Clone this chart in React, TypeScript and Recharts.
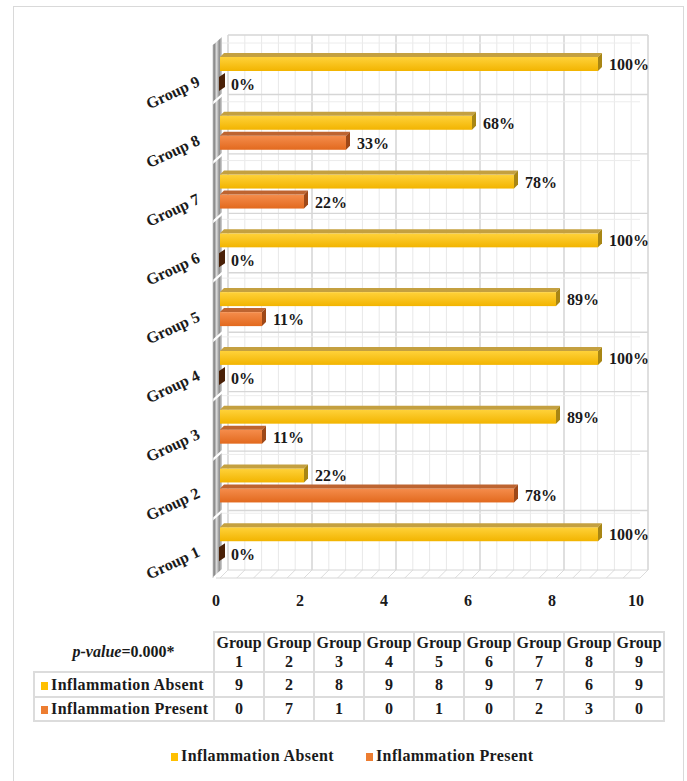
import { Bar, BarChart, LabelList, XAxis, YAxis } from "recharts";

const groups = ["Group 1", "Group 2", "Group 3", "Group 4", "Group 5", "Group 6", "Group 7", "Group 8", "Group 9"];
const absentCounts = [9, 2, 8, 9, 8, 9, 7, 6, 9];
const presentCounts = [0, 7, 1, 0, 1, 0, 2, 3, 0];
const absentLabels = ["100%", "22%", "89%", "100%", "89%", "100%", "78%", "68%", "100%"];
const presentLabels = ["0%", "78%", "11%", "0%", "11%", "0%", "22%", "33%", "0%"];
const xTicks = [0, 2, 4, 6, 8, 10];
const gridTicks = [0, 0.4, 0.8, 1.2, 1.6, 2, 2.4, 2.8, 3.2, 3.6, 4, 4.4, 4.8, 5.2, 5.6, 6, 6.4, 6.8, 7.2, 7.6, 8, 8.4, 8.8, 9.2, 9.6, 10];
const pValueNote = "=0.000*";

const rows = groups.map((group, i) => ({
  group,
  absent: absentCounts[i],
  present: presentCounts[i],
  absentLabel: absentLabels[i],
  presentLabel: presentLabels[i],
}));

const FONT = "'Liberation Serif', 'Times New Roman', serif";
const YELLOW = "#FFC000";
const ORANGE = "#ED7D31";

// front plane of the plot, plus depth of the back wall
const LEFT = 220;
const RIGHT = 640;
const TOP = 43;
const BOTTOM = 572;
const DEPTH = 8;
const UNIT = (RIGHT - LEFT) / 10;
const BAR_DEPTH = 4;

const tones = {
  absent: { front: "url(#gAbsent)", top: "#C4A040", side: "#A88614" },
  present: { front: "url(#gPresent)", top: "#BE6430", side: "#9E4818" },
};

function Bar3D(props: any) {
  const { x, y, width, height, tone } = props;
  const c = tones[tone as "absent" | "present"];
  const d = BAR_DEPTH;
  const w = Math.max(Number(width) || 0, 0);
  if (w < 0.5) {
    return (
      <polygon
        points={`${x - 1},${y + d} ${x + d + 1},${y} ${x + d + 1},${y + height - d} ${x - 1},${y + height}`}
        fill="#4A2108"
      />
    );
  }
  return (
    <g>
      <rect x={x} y={y + d} width={w} height={height - d} fill={c.front} />
      <polygon points={`${x},${y + d} ${x + d},${y} ${x + w + d},${y} ${x + w},${y + d}`} fill={c.top} />
      <polygon
        points={`${x + w},${y + d} ${x + w + d},${y} ${x + w + d},${y + height - d} ${x + w},${y + height}`}
        fill={c.side}
      />
    </g>
  );
}

function ValueLabel(props: any) {
  const { x, y, width, height, value } = props;
  return (
    <text
      x={Number(x) + Math.max(Number(width), 0) + BAR_DEPTH + 7}
      y={Number(y) + Number(height) / 2 + 8}
      fontFamily={FONT}
      fontWeight="bold"
      fontSize={16}
      fill="#1a1a1a"
    >
      {value}
    </text>
  );
}

function GroupTick(props: any) {
  const { y, payload } = props;
  const ty = Number(y) + 13;
  return (
    <text
      x={201}
      y={ty}
      textAnchor="end"
      transform={`rotate(-25 201 ${ty})`}
      fontFamily={FONT}
      fontWeight="bold"
      fontSize={16}
      fill="#1a1a1a"
    >
      {payload.value}
    </text>
  );
}

function CountTick(props: any) {
  const { x, payload } = props;
  return (
    <text x={Number(x) - 4} y={606} textAnchor="middle" fontFamily={FONT} fontWeight="bold" fontSize={16} fill="#1a1a1a">
      {payload.value}
    </text>
  );
}

function Backdrop() {
  const backTop = TOP - DEPTH;
  const backBottom = BOTTOM - 2;
  const band = (backBottom - backTop) / groups.length;
  const frontBand = (BOTTOM - TOP) / groups.length;
  const floorFront = BOTTOM + 6;
  return (
    <svg width={687} height={781} style={{ position: "absolute", left: 0, top: 0 }}>
      <defs>
        <linearGradient id="gAbsent" x1="0" y1="0" x2="0" y2="1">
          <stop offset="0%" stopColor="#FFD23A" />
          <stop offset="100%" stopColor="#F2B400" />
        </linearGradient>
        <linearGradient id="gPresent" x1="0" y1="0" x2="0" y2="1">
          <stop offset="0%" stopColor="#F58D4C" />
          <stop offset="100%" stopColor="#E2691E" />
        </linearGradient>
        <linearGradient id="gWall" x1="0" y1="0" x2="1" y2="0">
          <stop offset="0%" stopColor="#555555" />
          <stop offset="40%" stopColor="#dcdcdc" />
          <stop offset="70%" stopColor="#8c8c8c" />
          <stop offset="100%" stopColor="#d4d4d4" />
        </linearGradient>
      </defs>
      {gridTicks.map((t) => {
        const gx = LEFT + DEPTH + t * UNIT;
        const major = Number.isInteger(t) && t % 2 === 0;
        return (
          <g key={t}>
            <line x1={gx} x2={gx} y1={backTop} y2={backBottom} stroke={major ? "#d2d2d2" : "#e8e8e8"} strokeWidth={major ? 1.4 : 1} />
            <line x1={gx} x2={gx - DEPTH} y1={backBottom} y2={floorFront} stroke="#dcdcdc" />
          </g>
        );
      })}
      {groups.map((g, i) => (
        <line key={g} x1={LEFT + DEPTH} x2={RIGHT + DEPTH} y1={backTop + i * band} y2={backTop + i * band} stroke="#d6d6d6" strokeWidth={1.4} />
      ))}
      {groups.map((g, i) => (
        <line key={g + "f"} x1={LEFT} x2={RIGHT} y1={TOP + i * frontBand} y2={TOP + i * frontBand} stroke="#ececec" />
      ))}
      <line x1={LEFT + DEPTH} x2={RIGHT + DEPTH} y1={backBottom} y2={backBottom} stroke="#d6d6d6" />
      <line x1={LEFT - 4} x2={RIGHT} y1={floorFront} y2={floorFront} stroke="#d6d6d6" />
      {groups.map((g, i) => {
        const bt = backTop + i * band;
        const bb = bt + band;
        return (
          <polygon
            key={g + "w"}
            points={`${LEFT - 7},${bt + 10} ${LEFT + 2},${bt + 2} ${LEFT + 2},${bb - 1} ${LEFT - 7},${bb + 7}`}
            fill="url(#gWall)"
          />
        );
      })}
      <line x1={LEFT - 7} x2={LEFT - 7} y1={backTop + 10} y2={floorFront} stroke="#cfcfcf" />
    </svg>
  );
}

const cell = {
  border: "2px solid #dcdcdc",
  textAlign: "center" as const,
  padding: 0,
  fontWeight: "bold" as const,
};

function Swatch({ color }: { color: string }) {
  return <span style={{ display: "inline-block", width: 7, height: 8, background: color, marginRight: 3, verticalAlign: 0 }} />;
}

export default function App() {
  return (
    <div style={{ position: "absolute", left: 0, top: 0, width: 687, height: 781, background: "#fff", overflow: "hidden", fontFamily: FONT, color: "#1a1a1a" }}>
      <div style={{ position: "absolute", left: 13, top: 6, width: 669, height: 800, border: "1px solid #d9d9d9" }} />
      <Backdrop />
      <div style={{ position: "absolute", left: 0, top: 0 }}>
        <BarChart
          width={687}
          height={781}
          data={rows}
          layout="vertical"
          margin={{ top: TOP, right: 687 - RIGHT, left: LEFT - 60, bottom: 781 - BOTTOM - 30 }}
          barSize={18}
          barGap={2}
        >
          <XAxis type="number" domain={[0, 10]} ticks={xTicks} axisLine={false} tickLine={false} tick={<CountTick />} height={30} />
          <YAxis type="category" dataKey="group" reversed width={60} axisLine={false} tickLine={false} tick={<GroupTick />} />
          <Bar dataKey="absent" isAnimationActive={false} shape={(p: any) => <Bar3D {...p} tone="absent" />}>
            <LabelList dataKey="absentLabel" content={<ValueLabel />} />
          </Bar>
          <Bar dataKey="present" isAnimationActive={false} shape={(p: any) => <Bar3D {...p} tone="present" />}>
            <LabelList dataKey="presentLabel" content={<ValueLabel />} />
          </Bar>
        </BarChart>
      </div>
      <table style={{ position: "absolute", left: 33, top: 631, width: 632, borderCollapse: "collapse", tableLayout: "fixed", fontSize: 16, fontFamily: FONT }}>
        <colgroup>
          <col style={{ width: 180 }} />
          {groups.map((g) => (
            <col key={g} />
          ))}
        </colgroup>
        <tbody>
          <tr style={{ height: 38 }}>
            <td style={{ textAlign: "center", fontWeight: "bold", padding: 0 }}>
              <i>p-value</i>
              {pValueNote}
            </td>
            {groups.map((g) => (
              <td key={g} style={{ ...cell, lineHeight: "19px" }}>
                {g.split(" ")[0]}
                <br />
                {g.split(" ")[1]}
              </td>
            ))}
          </tr>
          <tr style={{ height: 25 }}>
            <td style={{ ...cell, textAlign: "left", paddingLeft: 6, letterSpacing: 0.4 }}>
              <Swatch color={YELLOW} />
              Inflammation Absent
            </td>
            {absentCounts.map((v, i) => (
              <td key={i} style={cell}>
                {v}
              </td>
            ))}
          </tr>
          <tr style={{ height: 24 }}>
            <td style={{ ...cell, textAlign: "left", paddingLeft: 6, letterSpacing: 0.4 }}>
              <Swatch color={ORANGE} />
              Inflammation Present
            </td>
            {presentCounts.map((v, i) => (
              <td key={i} style={cell}>
                {v}
              </td>
            ))}
          </tr>
        </tbody>
      </table>
      <div style={{ position: "absolute", left: 171, top: 747, display: "flex", gap: 32, fontWeight: "bold", fontSize: 16, letterSpacing: 0.4, whiteSpace: "nowrap" }}>
        <span>
          <Swatch color={YELLOW} />
          Inflammation Absent
        </span>
        <span>
          <Swatch color={ORANGE} />
          Inflammation Present
        </span>
      </div>
    </div>
  );
}
